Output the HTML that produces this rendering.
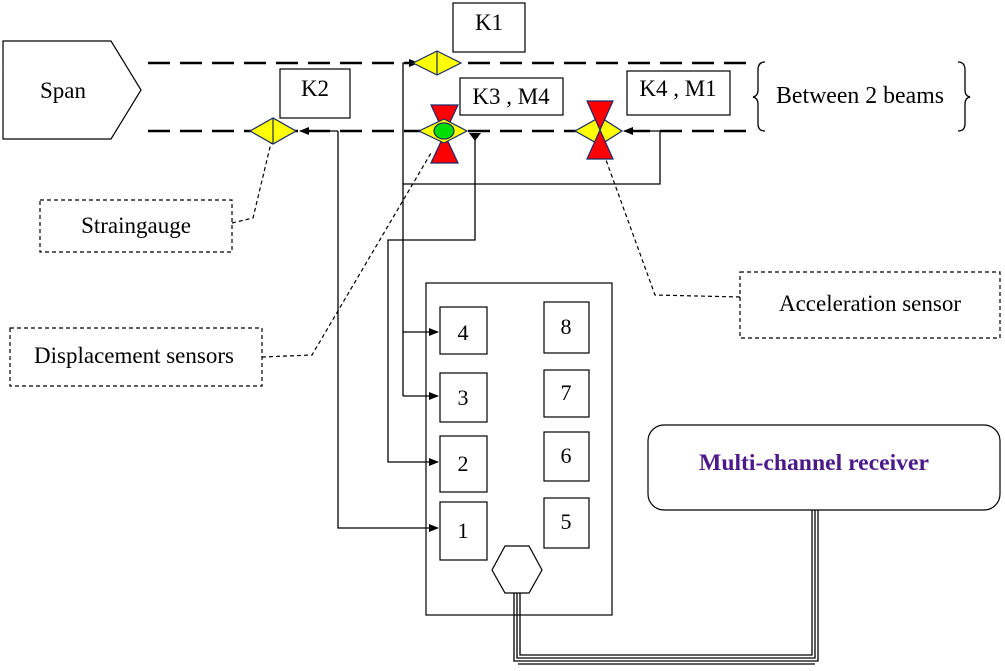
<!DOCTYPE html>
<html><head><style>
html,body{margin:0;padding:0;background:#fff;}
svg{display:block;}
text{font-family:"Liberation Serif",serif;fill:#000;}
</style></head><body>
<svg width="1005" height="671" viewBox="0 0 1005 671" xmlns="http://www.w3.org/2000/svg">
<defs>
<marker id="ar" markerWidth="10" markerHeight="8" refX="9" refY="4" orient="auto" markerUnits="userSpaceOnUse">
<path d="M0,0 L10,4 L0,8 z" fill="#000"/></marker>
</defs>
<path d="M3,41 H111 L141,90 L111,139 H3 Z" fill="#fff" stroke="#000" stroke-width="1.2"/>
<text x="63" y="98" font-size="23" text-anchor="middle">Span</text>
<line x1="148" y1="63" x2="752" y2="63" stroke="#000" stroke-width="2.5" stroke-dasharray="22,10"/>
<line x1="148" y1="131" x2="752" y2="131" stroke="#000" stroke-width="2.5" stroke-dasharray="22,10"/>
<path d="M765,62 Q758,62 758,70 V90 Q758,96 753,97 Q758,98 758,104 V124 Q758,131 765,131" fill="none" stroke="#000" stroke-width="1.3"/>
<path d="M958,62 Q965,62 965,70 V90 Q965,96 970,97 Q965,98 965,104 V124 Q965,131 958,131" fill="none" stroke="#000" stroke-width="1.3"/>
<text x="776" y="103" font-size="24" textLength="168" lengthAdjust="spacingAndGlyphs">Between 2 beams</text>
<rect x="453" y="3" width="72" height="49" fill="#fff" stroke="#000" stroke-width="1.2"/>
<text x="489" y="30" font-size="23" text-anchor="middle">K1</text>
<rect x="280" y="69" width="70" height="49" fill="#fff" stroke="#000" stroke-width="1.2"/>
<text x="315" y="96" font-size="23" text-anchor="middle">K2</text>
<rect x="460" y="78" width="103" height="37" fill="#fff" stroke="#000" stroke-width="1.2"/>
<text x="511" y="104" font-size="23" text-anchor="middle">K3 , M4</text>
<rect x="627" y="71" width="103" height="44" fill="#fff" stroke="#000" stroke-width="1.2"/>
<text x="678" y="96" font-size="23" text-anchor="middle">K4 , M1</text>
<polyline points="403,396 403,63 418,63" fill="none" stroke="#000" stroke-width="1.3" marker-end="url(#ar)"/>
<polyline points="403,332 438,332" fill="none" stroke="#000" stroke-width="1.3" marker-end="url(#ar)"/>
<polyline points="403,396 438,396" fill="none" stroke="#000" stroke-width="1.3" marker-end="url(#ar)"/>
<polyline points="403,184 660,184 660,131 624,131" fill="none" stroke="#000" stroke-width="1.3" marker-end="url(#ar)"/>
<polyline points="338,131 338,528 438,528" fill="none" stroke="#000" stroke-width="1.3" marker-end="url(#ar)"/>
<line x1="338" y1="131" x2="300" y2="131" stroke="#000" stroke-width="1.3" marker-end="url(#ar)"/>
<polyline points="475,134 475,240 388,240 388,462 438,462" fill="none" stroke="#000" stroke-width="1.3" marker-end="url(#ar)"/>
<path d="M469,133 L481,133 L475,141 Z" fill="#000"/>
<g stroke="#1a2a6a" stroke-width="1.2">
<path d="M413,63 L437,51 L461,63 L437,75 Z" fill="#ffff00"/>
<line x1="437" y1="51" x2="437" y2="75"/>
<path d="M250,131 L273,118 L296,131 L273,144 Z" fill="#ffff00"/>
<line x1="273" y1="118" x2="273" y2="144"/>
<path d="M431,105 L458,105 L431,163 L458,163 Z" fill="#ff0000"/>
<path d="M419,131 L444,119 L467,131 L444,143 Z" fill="#ffff00"/>
<ellipse cx="444" cy="131" rx="10" ry="8" fill="#00dd00"/>
<path d="M575,131 L600,117 L622,131 L600,145 Z" fill="#ffff00"/>
<path d="M587,101 L613,101 L587,159 L613,159 Z" fill="#ff0000"/>
</g>
<rect x="40" y="200" width="192" height="52" fill="#fff" stroke="#000" stroke-width="1.2" stroke-dasharray="4,3"/>
<text x="136" y="233" font-size="23" text-anchor="middle">Straingauge</text>
<polyline points="232,223 253,218 271,143" fill="none" stroke="#000" stroke-width="1.2" stroke-dasharray="4,3"/>
<rect x="10" y="328" width="252" height="58" fill="#fff" stroke="#000" stroke-width="1.2" stroke-dasharray="4,3"/>
<text x="134" y="363" font-size="23" text-anchor="middle">Displacement sensors</text>
<polyline points="262,357 312,355 431,153" fill="none" stroke="#000" stroke-width="1.2" stroke-dasharray="4,3"/>
<rect x="740" y="272" width="260" height="66" fill="#fff" stroke="#000" stroke-width="1.2" stroke-dasharray="4,3"/>
<text x="870" y="311" font-size="23" text-anchor="middle">Acceleration sensor</text>
<polyline points="740,297 655,295 606,160" fill="none" stroke="#000" stroke-width="1.2" stroke-dasharray="4,3"/>
<rect x="426" y="283" width="186" height="332" fill="none" stroke="#000" stroke-width="1.2"/>
<g fill="#fff" stroke="#000" stroke-width="1.2">
<rect x="440" y="307" width="47" height="47"/>
<rect x="440" y="373" width="47" height="49"/>
<rect x="440" y="436" width="47" height="56"/>
<rect x="440" y="502" width="47" height="58"/>
<rect x="544" y="302" width="45" height="51"/>
<rect x="544" y="370" width="45" height="47"/>
<rect x="544" y="432" width="45" height="49"/>
<rect x="544" y="498" width="45" height="50"/>
</g>
<g font-size="22" text-anchor="middle">
<text x="463" y="340">4</text><text x="463" y="405">3</text><text x="463" y="471">2</text><text x="463" y="538">1</text>
<text x="566" y="334">8</text><text x="566" y="400">7</text><text x="566" y="463">6</text><text x="566" y="529">5</text>
</g>
<path d="M505,546 L529,546 L542,570 L529,593 L505,593 L492,570 Z" fill="#fff" stroke="#000" stroke-width="1.2"/>
<g fill="none" stroke="#000" stroke-width="1.3">
<polyline points="514,593 514,661 818,661 818,510"/>
<polyline points="517,593 517,658 815,658 815,510"/>
<polyline points="520,593 520,655 812,655 812,510"/>
<line x1="518" y1="664" x2="815" y2="664"/>
</g>
<rect x="648" y="425" width="352" height="85" rx="16" fill="#fff" stroke="#000" stroke-width="1.2"/>
<text x="814" y="470" font-size="23" font-weight="bold" text-anchor="middle" textLength="230" lengthAdjust="spacingAndGlyphs" style="fill:#4b1a8a">Multi-channel receiver</text>
</svg>
</body></html>
